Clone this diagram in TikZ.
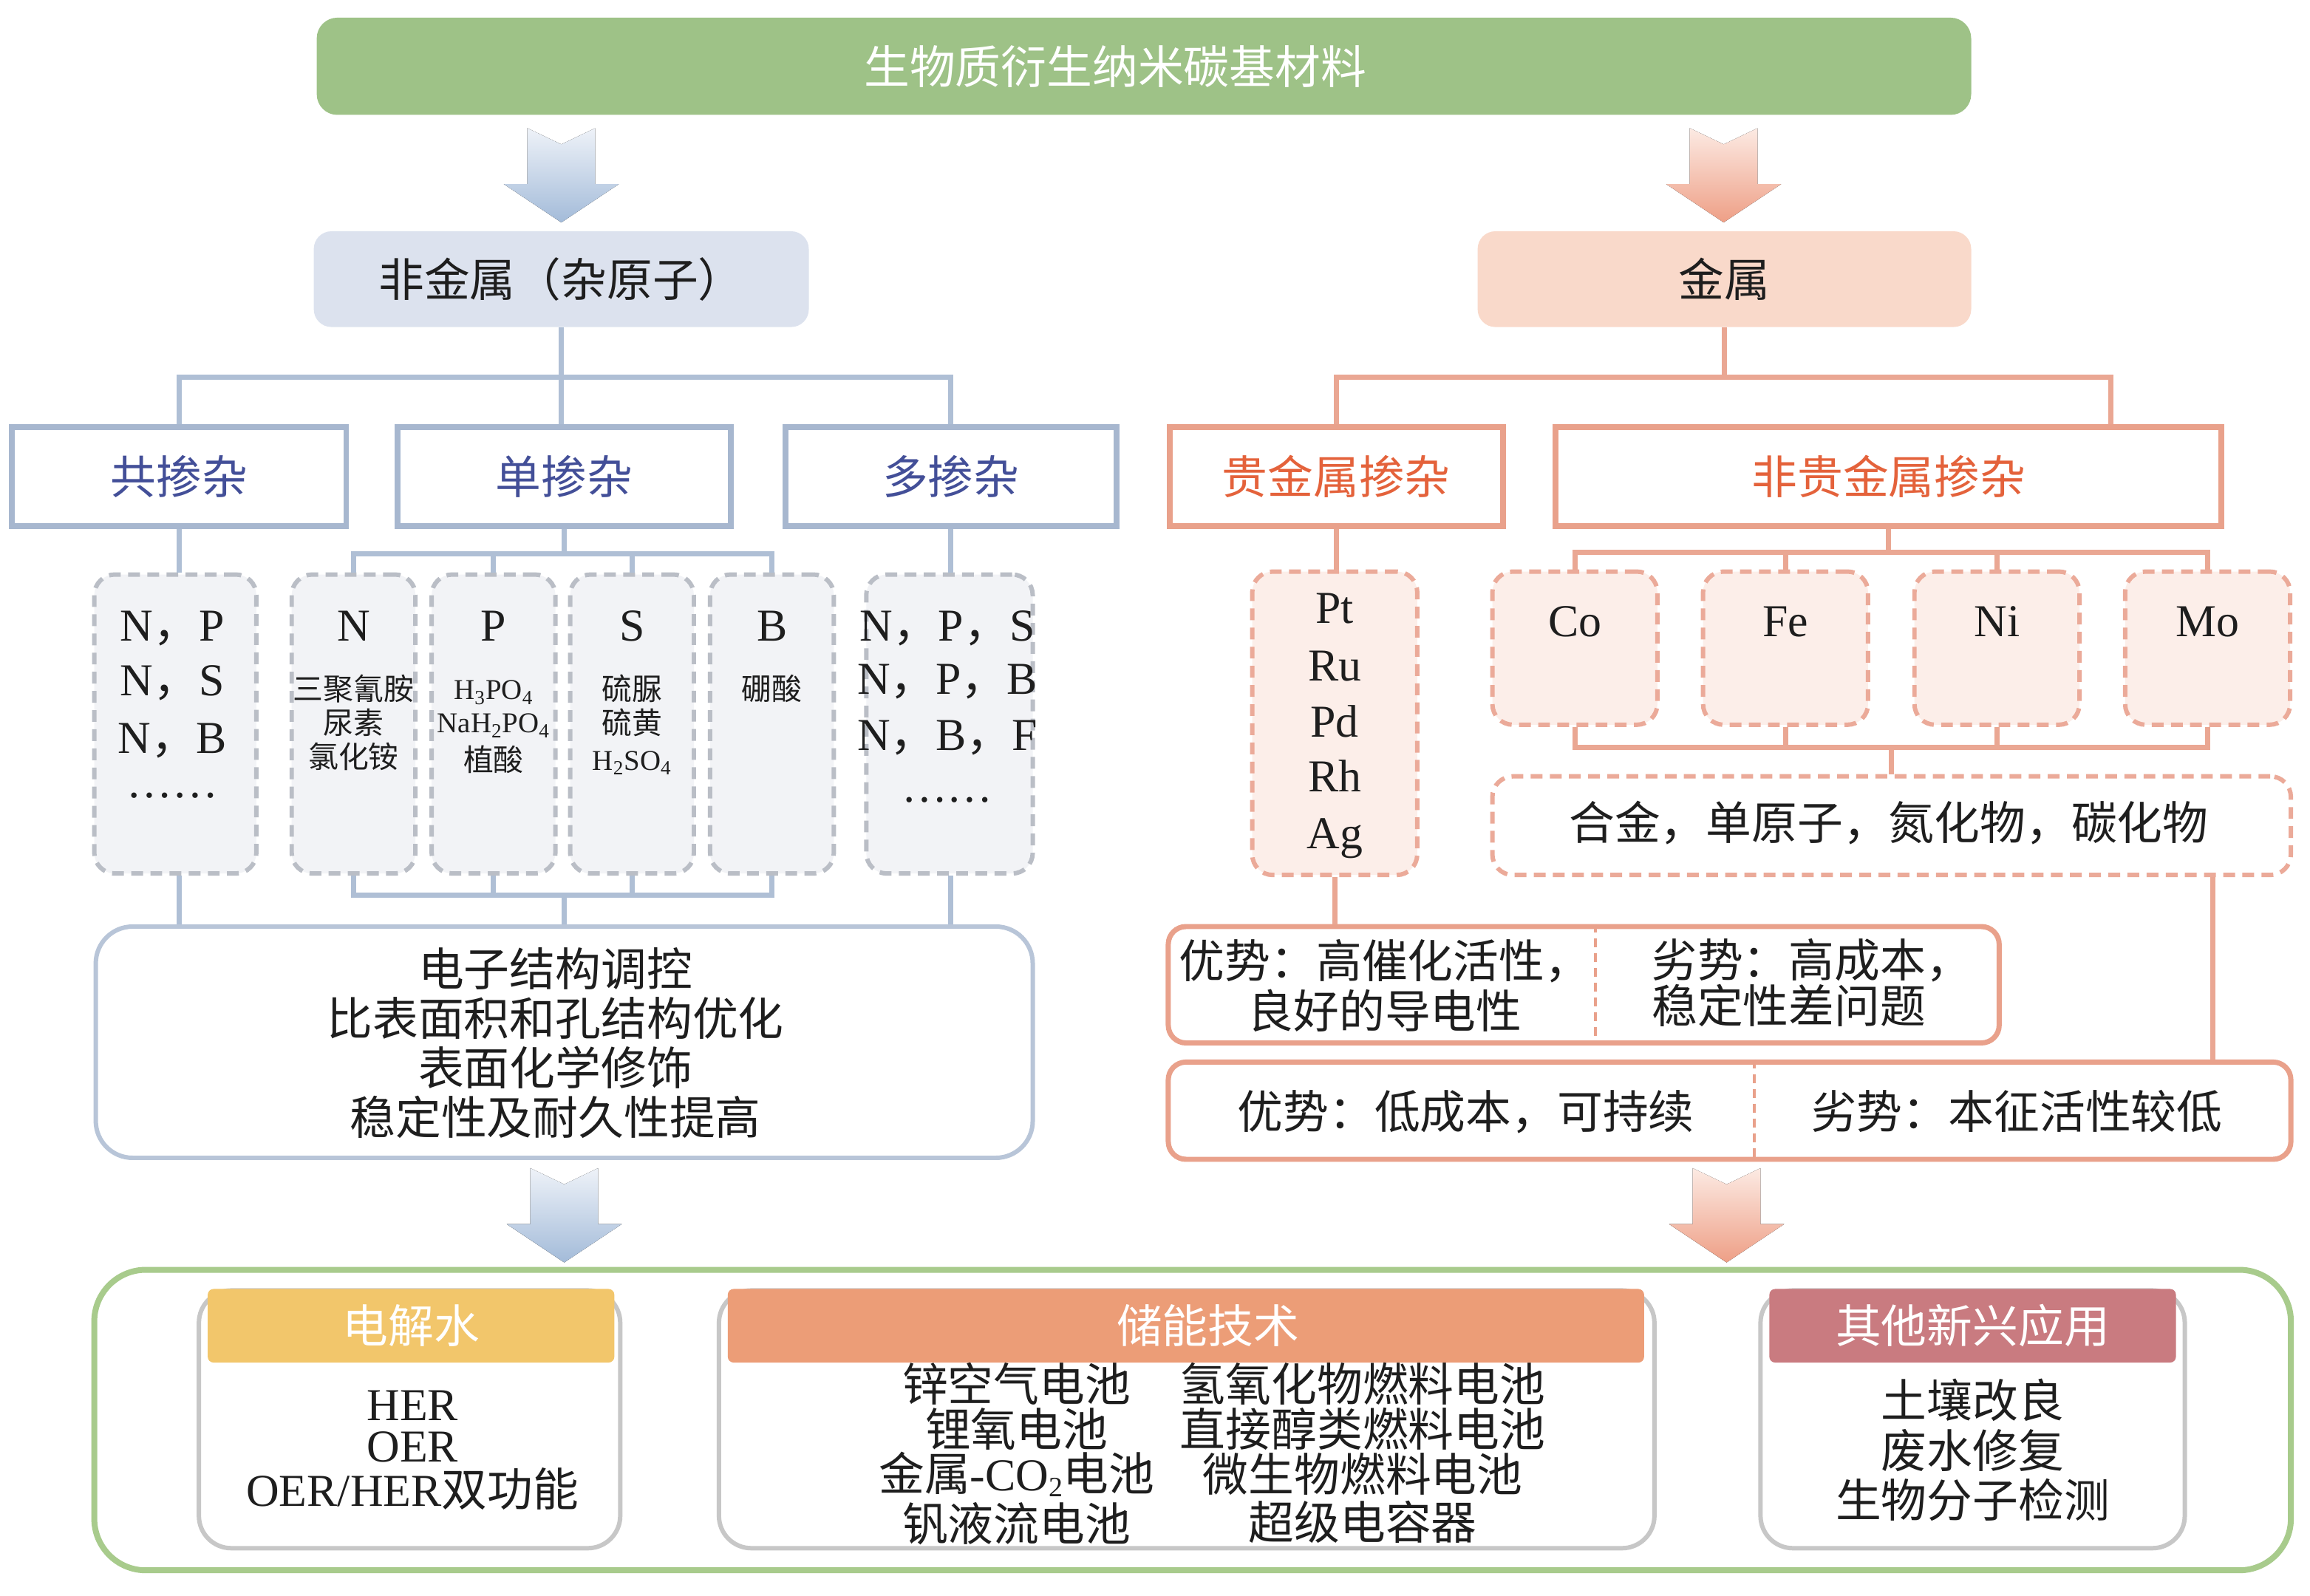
\documentclass[tikz,border=0pt]{standalone}
\usepackage{fontspec}
\setmainfont{Noto Sans CJK SC}
\newfontfamily\lat{Liberation Serif}
\usetikzlibrary{calc}
\definecolor{txt}{HTML}{1E1E1E}
\definecolor{ltext}{HTML}{434F98}
\definecolor{rtext}{HTML}{E4623B}
\definecolor{lline}{HTML}{AFBFD5}
\definecolor{lborder}{HTML}{A7B7CF}
\definecolor{ldash}{HTML}{BABEC6}
\definecolor{ldashfill}{HTML}{F2F3F6}
\definecolor{rline}{HTML}{EAA793}
\definecolor{rborder}{HTML}{E9A18B}
\definecolor{rdash}{HTML}{EBAA99}
\definecolor{rdashfill}{HTML}{FCEEE9}
\definecolor{bigborder}{HTML}{B8C5D8}
\definecolor{cgreen}{HTML}{9EC287}
\definecolor{appborder}{HTML}{A8CB8C}
\definecolor{hdrY}{HTML}{F2C66B}
\definecolor{hdrO}{HTML}{EC9D77}
\definecolor{hdrR}{HTML}{C97B80}
\definecolor{nmfill}{HTML}{DCE2EE}
\definecolor{mfill}{HTML}{F9D9CA}
\definecolor{larrowD}{HTML}{A3BBD9}
\definecolor{larrowL}{HTML}{EEF2F8}
\definecolor{rarrowD}{HTML}{EE9F86}
\definecolor{rarrowL}{HTML}{FCEAE3}
\newcommand\fatarrow[4]{%
  \fill[top color=#3, bottom color=#4] ({#1-23},#2) -- (#1,{#2+11}) -- ({#1+23},#2) -- ({#1+23},{#2+38}) -- ({#1+39},{#2+38}) -- (#1,{#2+64}) -- ({#1-39},{#2+38}) -- ({#1-23},{#2+38}) -- cycle;}
\begin{document}
\begin{tikzpicture}[x=1pt,y=-1pt,
  every node/.style={inner sep=0pt, text=txt},
  f30/.style={font=\fontsize{31}{34}\selectfont},
  l30/.style={f30, text height=24.5pt, text depth=2pt},
  l21/.style={font=\fontsize{20.5}{23}\selectfont, text height=16.5pt, text depth=1.5pt},
  l19/.style={font=\fontsize{19.5}{22}\selectfont, text height=15.5pt, text depth=1.5pt},
  lcat/.style={draw=lborder, line width=4pt, fill=white, minimum height=67pt, f30, text=ltext},
  rcat/.style={draw=rborder, line width=4pt, fill=white, minimum height=67pt, f30, text=rtext},
  ldbox/.style={draw=ldash, fill=ldashfill, line width=3pt, dash pattern=on 8pt off 5pt, rounded corners=14pt},
  rdbox/.style={draw=rdash, fill=rdashfill, line width=3pt, dash pattern=on 8pt off 5pt, rounded corners=14pt},
  lconn/.style={draw=lline, line width=3.5pt},
  rconn/.style={draw=rline, line width=3.5pt},
  advbox/.style={draw=rborder, line width=3.5pt, fill=white, rounded corners=12pt},
  divider/.style={draw=rborder, line width=2pt, dash pattern=on 6pt off 4pt},
  cardbody/.style={fill=white, draw=black!22, line width=3pt, rounded corners=22pt},
  hdr/.style={minimum height=50pt, rounded corners=4pt, f30, text=white}
]
\useasboundingbox (0,0) rectangle (1568,1083);
\fill[white] (0,0) rectangle (1568,1083);

% arrows
\fatarrow{381}{87}{larrowL}{larrowD}
\fatarrow{1170}{87}{rarrowL}{rarrowD}
\fatarrow{383}{793}{larrowL}{larrowD}
\fatarrow{1172}{793}{rarrowL}{rarrowD}

% top
\node[fill=cgreen, rounded corners=14pt, minimum width=1123pt, minimum height=66pt] (title) at (776.5,45) {};
\node[f30, text=white] (titletext) at (757,45) {生物质衍生纳米碳基材料};
\node[fill=nmfill, rounded corners=12pt, minimum width=336pt, minimum height=65pt, f30] (nonmetal) at (381,189.5) {非金属（杂原子）};
\node[fill=mfill, rounded corners=12pt, minimum width=335pt, minimum height=65pt, f30] (metal) at (1170.5,189.5) {金属};

% categories
\node[lcat, minimum width=227pt] (co) at (121.5,323.5) {共掺杂};
\node[lcat, minimum width=226pt] (single) at (383,323.5) {单掺杂};
\node[lcat, minimum width=225pt] (multi) at (645.5,323.5) {多掺杂};
\node[rcat, minimum width=226pt] (noble) at (907,323.5) {贵金属掺杂};
\node[rcat, minimum width=452pt] (nonnoble) at (1282,323.5) {非贵金属掺杂};

% dashed boxes left
\node[ldbox, minimum width=110pt, minimum height=203pt] (codash) at (119,491.5) {};
\node[ldbox, minimum width=84pt, minimum height=203pt] (nbox) at (240,491.5) {};
\node[ldbox, minimum width=84pt, minimum height=203pt] (pbox) at (335,491.5) {};
\node[ldbox, minimum width=84pt, minimum height=203pt] (sbox) at (429,491.5) {};
\node[ldbox, minimum width=84pt, minimum height=203pt] (bbox) at (524,491.5) {};
\node[ldbox, minimum width=113pt, minimum height=203pt] (multidash) at (644.5,491.5) {};

% dashed boxes right
\node[rdbox, minimum width=112pt, minimum height=206pt] (ptbox) at (906,491) {};
\node[rdbox, minimum width=112pt, minimum height=104pt] (cobox) at (1069,440) {};
\node[rdbox, minimum width=112pt, minimum height=104pt] (febox) at (1212,440) {};
\node[rdbox, minimum width=112pt, minimum height=104pt] (nibox) at (1355.5,440) {};
\node[rdbox, minimum width=112pt, minimum height=104pt] (mobox) at (1498.5,440) {};
\node[rdbox, fill=white, minimum width=542pt, minimum height=67pt] (alloy) at (1284,560.5) {};

% texts left dashed
\node[l30] (t1) at (117,424) {{\lat N}，{\lat P}};
\node[l30] (t2) at (117,461) {{\lat N}，{\lat S}};
\node[l30] (t3) at (117,500) {{\lat N}，{\lat B}};
\node[l30] (t4) at (117,530) {{\lat ……}};
\node[l30] (t5) at (240,424) {\lat N};
\node[l21] (t6) at (240,468) {三聚氰胺};
\node[l21] (t7) at (240,491) {尿素};
\node[l21] (t8) at (240,514) {氯化铵};
\node[l30] (t9) at (335,424) {\lat P};
\node[l19] (t10) at (335,468) {\lat H\textsubscript{3}PO\textsubscript{4}};
\node[l19] (t11) at (335,490.5) {\lat NaH\textsubscript{2}PO\textsubscript{4}};
\node[l21] (t12) at (335,516) {植酸};
\node[l30] (t13) at (429,424) {\lat S};
\node[l21] (t14) at (429,468) {硫脲};
\node[l21] (t15) at (429,491) {硫黄};
\node[l19] (t16) at (429,516) {\lat H\textsubscript{2}SO\textsubscript{4}};
\node[l30] (t17) at (524,424) {\lat B};
\node[l21] (t18) at (524,468) {硼酸};
\node[l30] (t19) at (643,424) {{\lat N}，{\lat P}，{\lat S}};
\node[l30] (t20) at (643,460) {{\lat N}，{\lat P}，{\lat B}};
\node[l30] (t21) at (643,498) {{\lat N}，{\lat B}，{\lat F}};
\node[l30] (t22) at (643,533) {{\lat ……}};

% texts right dashed
\node[l30] (t23) at (906,412) {\lat Pt};
\node[l30] (t24) at (906,451) {\lat Ru};
\node[l30] (t25) at (906,489) {\lat Pd};
\node[l30] (t26) at (906,526) {\lat Rh};
\node[l30] (t27) at (906,565) {\lat Ag};
\node[l30] (t28) at (1069,421) {\lat Co};
\node[l30] (t29) at (1212,421) {\lat Fe};
\node[l30] (t30) at (1355.5,421) {\lat Ni};
\node[l30] (t31) at (1498.5,421) {\lat Mo};
\node[l30] (t32) at (1282,559) {合金，单原子，氮化物，碳化物};

% big left box
\node[draw=bigborder, line width=3pt, fill=white, rounded corners=25pt, minimum width=636pt, minimum height=157pt] (bigbox) at (383,707.5) {};
\node[font=\fontsize{31}{33.5}\selectfont, align=center] (bigtext) at (377,708) {电子结构调控\\比表面积和孔结构优化\\表面化学修饰\\稳定性及耐久性提高};

% advantage boxes
\node[advbox, minimum width=564pt, minimum height=79pt] (adv1) at (1075,668.5) {};
\node[advbox, minimum width=762pt, minimum height=66pt] (adv2) at (1174,754) {};
\draw[divider] ([xshift=8pt]adv1.north) -- ([xshift=8pt]adv1.south);
\draw[divider] ([xshift=17pt]adv2.north) -- ([xshift=17pt]adv2.south);
\node[font=\fontsize{31}{34}\selectfont, align=center] (a1) at (940,669) {优势：高催化活性，\\良好的导电性};
\node[font=\fontsize{31}{31}\selectfont, align=left, anchor=west] (a2) at (1121,667) {劣势：高成本，\\稳定性差问题};
\node[l30] (a3) at (995,755) {优势：低成本，可持续};
\node[l30] (a4) at (1369,755) {劣势：本征活性较低};

% connectors left
\path (nonmetal.south) ++(0,34) coordinate (lj);
\draw[lconn] (nonmetal.south) -- (lj);
\draw[lconn] (co.north) |- (lj) -| (multi.north);
\draw[lconn] (lj) -- (lj |- single.north);
\path (single.south) ++(0,17) coordinate (sj);
\draw[lconn] (single.south) -- (sj);
\draw[lconn] (nbox.north) |- (sj) -| (bbox.north);
\draw[lconn] (pbox.north) -- (pbox.north |- sj);
\draw[lconn] (sbox.north) -- (sbox.north |- sj);
\draw[lconn] (co.south) -- (co.south |- codash.north);
\draw[lconn] (multi.south) -- (multi.south |- multidash.north);
\path (bigbox.north) ++(0,-20) coordinate (bj);
\draw[lconn] (nbox.south) |- (bj) -| (bbox.south);
\draw[lconn] (pbox.south) -- (pbox.south |- bj);
\draw[lconn] (sbox.south) -- (sbox.south |- bj);
\draw[lconn] (bj) -- (bigbox.north);
\draw[lconn] (co.south |- codash.south) -- (co.south |- bigbox.north);
\draw[lconn] (multi.south |- multidash.south) -- (multi.south |- bigbox.north);

% connectors right
\path (metal.south) ++(0,34) coordinate (rj);
\coordinate (nnin) at ([xshift=151pt]nonnoble.north);
\draw[rconn] (metal.south) -- (rj);
\draw[rconn] (noble.north) |- (rj) -| (nnin);
\draw[rconn] (noble.south) -- (noble.south |- ptbox.north);
\path (nonnoble.south) ++(0,16) coordinate (nj);
\draw[rconn] (nonnoble.south) -- (nj);
\draw[rconn] (cobox.north) |- (nj) -| (mobox.north);
\draw[rconn] (febox.north) -- (febox.north |- nj);
\draw[rconn] (nibox.north) -- (nibox.north |- nj);
\path (alloy.north) ++(0,-18) coordinate (aj);
\draw[rconn] (cobox.south) |- (aj) -| (mobox.south);
\draw[rconn] (febox.south) -- (febox.south |- aj);
\draw[rconn] (nibox.south) -- (nibox.south |- aj);
\draw[rconn] (aj) -- (alloy.north);
\draw[rconn] (ptbox.south) -- (ptbox.south |- adv1.north);
\coordinate (alr) at ([xshift=218pt]alloy.south);
\draw[rconn] (alr) -- (alr |- adv2.north);

% applications
\node[draw=appborder, line width=4pt, fill=white, rounded corners=35pt, minimum width=1491pt, minimum height=204pt] (apps) at (809.5,964) {};
\node[cardbody, minimum width=286pt, minimum height=175pt] (c1) at (278,963.5) {};
\node[cardbody, minimum width=635pt, minimum height=175pt] (c2) at (805.5,963.5) {};
\node[cardbody, minimum width=288pt, minimum height=175pt] (c3) at (1339,963.5) {};
\node[hdr, fill=hdrY, minimum width=276pt] (h1) at (279,900) {电解水};
\node[hdr, fill=hdrO, minimum width=622pt] (h2) at (805,900) {};
\node[f30, text=white] (h2t) at (820,900) {储能技术};
\node[hdr, fill=hdrR, minimum width=276pt] (h3) at (1339,900) {其他新兴应用};

\node[l30] (e1) at (280,953) {\lat HER};
\node[l30] (e2) at (280,981) {\lat OER};
\node[l30] (e3) at (280,1011) {{\lat OER/HER}双功能};

\node[l30] (s1) at (690,940) {锌空气电池};
\node[l30] (s2) at (690,970.5) {锂氧电池};
\node[l30] (s3) at (690,1000.5) {金属{\lat -CO}\raisebox{-0.14em}{\fontsize{19}{20}\selectfont\lat 2}电池};
\node[l30] (s4) at (690,1035) {钒液流电池};
\node[l30] (s5) at (925,940) {氢氧化物燃料电池};
\node[l30] (s6) at (925,970.5) {直接醇类燃料电池};
\node[l30] (s7) at (925,1001) {微生物燃料电池};
\node[l30] (s8) at (925,1034) {超级电容器};

\node[l30] (o1) at (1339,951) {土壤改良};
\node[l30] (o2) at (1339,985) {废水修复};
\node[l30] (o3) at (1339,1019) {生物分子检测};
\end{tikzpicture}
\end{document}
